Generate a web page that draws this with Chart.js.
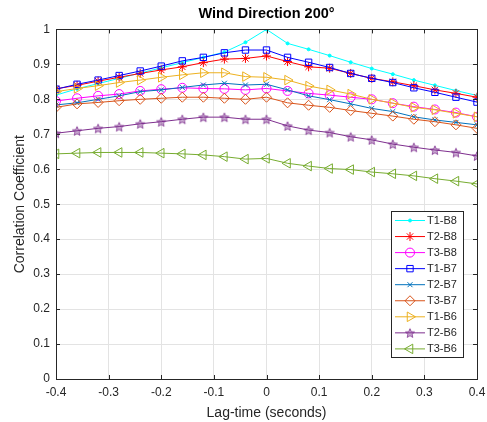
<!DOCTYPE html>
<html>
<head>
<meta charset="utf-8">
<script src="https://cdn.jsdelivr.net/npm/chart.js@4/dist/chart.umd.min.js"></script>
<style>
  html, body { margin: 0; padding: 0; background: #fff; }
  #wrap { width: 487px; height: 422px; position: relative; }
</style>
</head>
<body>
<div id="wrap"><canvas id="chart"></canvas></div>
<script>
// lag times (seconds)
const lags = [-0.4, -0.36, -0.32, -0.28, -0.24, -0.2, -0.16, -0.12, -0.08, -0.04, 0,
              0.04, 0.08, 0.12, 0.16, 0.2, 0.24, 0.28, 0.32, 0.36, 0.4];

const seriesNames = ['T1-B8', 'T2-B8', 'T3-B8', 'T1-B7', 'T2-B7', 'T3-B7', 'T1-B6', 'T2-B6', 'T3-B6'];

const t1b8 = [0.812, 0.83, 0.845, 0.86, 0.875, 0.89, 0.905, 0.92, 0.935, 0.963, 1.0,
              0.96, 0.943, 0.925, 0.906, 0.888, 0.872, 0.855, 0.84, 0.825, 0.811];
const t2b8 = [0.83, 0.84, 0.852, 0.863, 0.874, 0.884, 0.893, 0.905, 0.915, 0.917, 0.924,
              0.908, 0.893, 0.889, 0.874, 0.86, 0.85, 0.839, 0.827, 0.817, 0.806];
const t3b8 = [0.795, 0.803, 0.81, 0.815, 0.824, 0.829, 0.833, 0.831, 0.83, 0.827, 0.831,
              0.824, 0.817, 0.812, 0.806, 0.8, 0.789, 0.779, 0.771, 0.762, 0.75];
const t1b7 = [0.829, 0.843, 0.855, 0.868, 0.881, 0.895, 0.91, 0.92, 0.933, 0.941, 0.941,
              0.92, 0.906, 0.891, 0.874, 0.86, 0.848, 0.833, 0.82, 0.806, 0.792];
const t2b7 = [0.784, 0.79, 0.8, 0.81, 0.822, 0.827, 0.834, 0.841, 0.846, 0.841, 0.843,
              0.827, 0.81, 0.799, 0.787, 0.774, 0.765, 0.75, 0.741, 0.734, 0.727];
const t3b7 = [0.777, 0.787, 0.791, 0.796, 0.8, 0.803, 0.806, 0.806, 0.803, 0.8, 0.806,
              0.79, 0.783, 0.777, 0.768, 0.76, 0.752, 0.743, 0.736, 0.727, 0.717];
const t1b6 = [0.822, 0.831, 0.839, 0.848, 0.855, 0.863, 0.87, 0.876, 0.876, 0.865, 0.863,
              0.855, 0.838, 0.827, 0.815, 0.8, 0.789, 0.777, 0.77, 0.76, 0.75];
const t2b6 = [0.703, 0.71, 0.717, 0.722, 0.73, 0.736, 0.743, 0.749, 0.749, 0.743, 0.743,
              0.724, 0.712, 0.705, 0.693, 0.684, 0.672, 0.663, 0.655, 0.648, 0.638];
const t3b6 = [0.644, 0.646, 0.648, 0.648, 0.648, 0.646, 0.644, 0.641, 0.636, 0.629, 0.631,
              0.617, 0.609, 0.602, 0.599, 0.592, 0.587, 0.581, 0.573, 0.566, 0.558];

const xTicks = [-0.4, -0.3, -0.2, -0.1, 0, 0.1, 0.2, 0.3, 0.4];

// filled pentagram marker (MATLAB 'p')
function pentagram(color, r) {
  const c = document.createElement('canvas');
  const s = Math.ceil(r * 2 + 2);
  c.width = s; c.height = s;
  const g = c.getContext('2d');
  g.beginPath();
  for (let i = 0; i < 10; i++) {
    const rr = i % 2 === 0 ? r : r * 0.45;
    const a = -Math.PI / 2 + i * Math.PI / 5;
    const px = s / 2 + rr * Math.cos(a), py = s / 2 + 0.6 + rr * Math.sin(a);
    if (i === 0) g.moveTo(px, py); else g.lineTo(px, py);
  }
  g.closePath();
  g.fillStyle = 'rgba(126,47,142,0.4)';
  g.fill();
  g.strokeStyle = color;
  g.lineWidth = 0.8;
  g.stroke();
  return c;
}

const styles = [
  { color: '#00ffff', point: 'circle', r: 1.5, fill: '#00ffff' },
  { color: '#ff0000', point: 'star', r: 4.5 },
  { color: '#ff00ff', point: 'circle', r: 4.5 },
  { color: '#0000ff', point: 'rect', r: 4.5 },
  { color: '#0072bd', point: 'crossRot', r: 3.5 },
  { color: '#d95319', point: 'rectRot', r: 5 },
  { color: '#edb120', point: 'triangle', r: 5.5, rot: 90 },
  { color: '#7e2f8e', point: pentagram('#7e2f8e', 4.8), r: 4.8 },
  { color: '#77ac30', point: 'triangle', r: 5.5, rot: -90 }
];

const values = [t1b8, t2b8, t3b8, t1b7, t2b7, t3b7, t1b6, t2b6, t3b6];

const datasets = values.map((vals, i) => ({
  label: seriesNames[i],
  data: vals.map((v, j) => ({ x: lags[j], y: v })),
  borderColor: styles[i].color,
  backgroundColor: styles[i].fill || 'rgba(0,0,0,0)',
  borderWidth: 1,
  pointStyle: styles[i].point,
  pointRadius: styles[i].r,
  pointRotation: styles[i].rot || 0,
  pointBorderWidth: 1,
  pointBorderColor: styles[i].color,
  pointBackgroundColor: styles[i].fill || 'rgba(0,0,0,0)',
  tension: 0,
  order: 9 - i
}));

const axisColor = '#262626';
const fontFam = '"Liberation Sans", Arial, sans-serif';
const fmt = v => String(Math.round(v * 10) / 10);

// axes box, inward ticks, and MATLAB-style legend box
const framePlugin = {
  id: 'frame',
  afterDatasetsDraw(chart) {
    const { ctx, chartArea: a, scales } = chart;
    ctx.save();
    ctx.strokeStyle = axisColor;
    ctx.lineWidth = 1;
    ctx.strokeRect(Math.round(a.left) + 0.5, Math.round(a.top) + 0.5,
                   Math.round(a.right - a.left), Math.round(a.bottom - a.top));
    ctx.beginPath();
    scales.x.ticks.forEach(t => {
      const px = Math.round(scales.x.getPixelForValue(t.value)) + 0.5;
      ctx.moveTo(px, a.bottom); ctx.lineTo(px, a.bottom - 4);
      ctx.moveTo(px, a.top); ctx.lineTo(px, a.top + 4);
    });
    scales.y.ticks.forEach(t => {
      const py = Math.round(scales.y.getPixelForValue(t.value)) + 0.5;
      ctx.moveTo(a.left, py); ctx.lineTo(a.left + 4, py);
      ctx.moveTo(a.right, py); ctx.lineTo(a.right - 4, py);
    });
    ctx.stroke();

    // legend
    const lx = 391, ly = 211, lw = 72, lh = 146, step = 16.05;
    ctx.fillStyle = '#fff';
    ctx.fillRect(lx, ly, lw, lh);
    ctx.strokeStyle = axisColor;
    ctx.strokeRect(lx + 0.5, ly + 0.5, lw, lh);
    ctx.font = '11px ' + fontFam;
    ctx.textBaseline = 'middle';
    chart.data.datasets.forEach((ds, i) => {
      const cy = ly + 9.5 + i * step;
      ctx.strokeStyle = ds.borderColor;
      ctx.lineWidth = 1;
      ctx.beginPath();
      ctx.moveTo(395, cy); ctx.lineTo(425, cy);
      ctx.stroke();
      ctx.fillStyle = ds.pointBackgroundColor;
      Chart.helpers.drawPoint(ctx, {
        pointStyle: ds.pointStyle,
        radius: ds.pointRadius,
        rotation: ds.pointRotation,
        borderWidth: 1
      }, 410, cy);
      ctx.fillStyle = axisColor;
      ctx.fillText(ds.label, 427, cy);
    });
    ctx.restore();
  }
};

const ctx = document.getElementById('chart').getContext('2d');
const chart = new Chart(ctx, {
  type: 'line',
  data: { datasets: datasets },
  options: {
    responsive: true,
    maintainAspectRatio: false,
    animation: false,
    events: [],
    layout: { padding: { left: 0, right: 10, top: 0, bottom: 0 } },
    plugins: {
      legend: { display: false },
      tooltip: { enabled: false },
      title: {
        display: true,
        text: 'Wind Direction 200°',
        fullSize: false,
        color: '#000',
        font: { family: fontFam, size: 14.5, weight: 'bold' },
        padding: { top: 5, bottom: 7 }
      }
    },
    scales: {
      x: {
        type: 'linear',
        min: -0.4,
        max: 0.4,
        afterBuildTicks: s => { s.ticks = xTicks.map(v => ({ value: v })); },
        afterFit: s => { s.height = 43; s.paddingLeft = 0; s.paddingRight = 0; },
        border: { display: false },
        grid: { color: '#e3e3e3', drawTicks: false },
        ticks: {
          color: axisColor,
          padding: 6,
          maxRotation: 0,
          font: { family: fontFam, size: 12 },
          callback: v => fmt(v)
        },
        title: {
          display: true,
          text: 'Lag-time (seconds)',
          color: axisColor,
          padding: { top: 1, bottom: 0 },
          font: { family: fontFam, size: 14 }
        }
      },
      y: {
        min: 0,
        max: 1,
        afterFit: s => { s.width = 56; },
        border: { display: false },
        grid: { color: '#e3e3e3', drawTicks: false },
        ticks: {
          stepSize: 0.1,
          color: axisColor,
          padding: 6,
          font: { family: fontFam, size: 12 },
          callback: v => fmt(v)
        },
        title: {
          display: true,
          text: 'Correlation Coefficient',
          color: axisColor,
          padding: { top: 12, bottom: 0 },
          font: { family: fontFam, size: 14 }
        }
      }
    }
  },
  plugins: [framePlugin]
});
</script>
</body>
</html>
